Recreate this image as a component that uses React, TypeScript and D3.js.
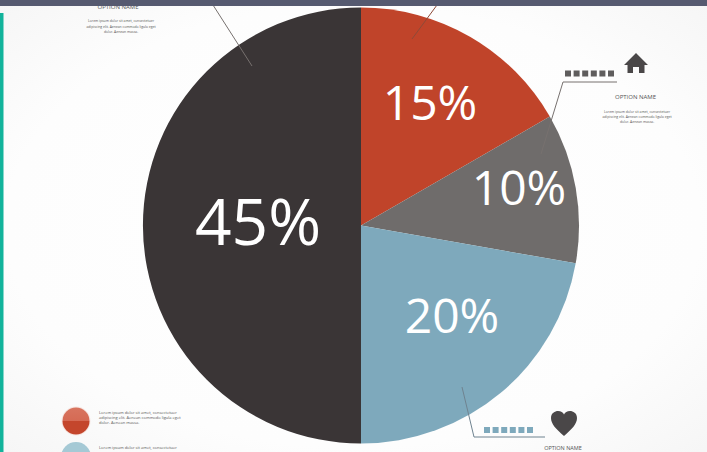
import React from "react";
import * as d3 from "d3";

// Slice shares and their colours, clockwise from twelve o'clock
const shareLabels = ["15%", "10%", "20%", "45%"];
const shareValues = [15, 10, 20, 45];
const sliceColors = ["#c0442a", "#6f6c6b", "#7ea9bc", "#3a3536"];

// Where each percentage sits and how large it is set
const labelX = [430, 519, 452, 258];
const labelY = [101, 186, 314, 220];
const labelSizes = [48, 48, 48, 64];

// Text blocks beside the pie
const optionName = "OPTION NAME";
const blurbLines = [
  "Lorem ipsum dolor sit amet, consectetuer",
  "adipiscing elit. Aenean commodo ligula eget",
  "dolor. Aenean massa.",
];
const lastLegendLines = ["Lorem ipsum dolor sit amet, consectetuer"];

const WIDTH = 707;
const HEIGHT = 452;
const CX = 361;
const CY = 225.5;
const RADIUS = 218;

const pieLayout = d3.pie<number>().sort(null).value((d) => d);
const sliceArc = d3.arc<d3.PieArcDatum<number>>().innerRadius(0).outerRadius(RADIUS);
const leader = d3.line();
const dashIndex = d3.range(6);

const FONT = "'Open Sans', sans-serif";

function Dashes({ x, y, color }: { x: number; y: number; color: string }) {
  return (
    <g>
      {dashIndex.map((i) => (
        <rect key={i} x={x + i * 8.6} y={y} width={6} height={6} fill={color} />
      ))}
    </g>
  );
}

function Blurb({ x, y, gap, size, anchor, lines }: { x: number; y: number; gap: number; size: number; anchor: string; lines: string[] }) {
  return (
    <g fontFamily={FONT} fontSize={size} fill="#555" textAnchor={anchor}>
      {lines.map((line, i) => (
        <text key={i} x={x} y={y + i * gap}>
          {line}
        </text>
      ))}
    </g>
  );
}

export default function App() {
  const slices = pieLayout(shareValues);
  return (
    <svg
      width={WIDTH}
      height={HEIGHT}
      viewBox={`0 0 ${WIDTH} ${HEIGHT}`}
      style={{ position: "absolute", left: 0, top: 0, display: "block" }}
    >
      <defs>
        <radialGradient id="paper" cx="50%" cy="50%" r="70%">
          <stop offset="0%" stopColor="#ffffff" />
          <stop offset="70%" stopColor="#fdfdfd" />
          <stop offset="100%" stopColor="#f6f6f6" />
        </radialGradient>
        <linearGradient id="legendRed" x1="0" y1="0" x2="0" y2="1">
          <stop offset="0%" stopColor="#d8745f" />
          <stop offset="50%" stopColor="#d56a54" />
          <stop offset="50%" stopColor="#c4462c" />
          <stop offset="100%" stopColor="#c4462c" />
        </linearGradient>
      </defs>

      <rect width={WIDTH} height={HEIGHT} fill="url(#paper)" />

      {/* Top-left callout, tucked under the band above it */}
      <text x={118} y={9} fontFamily={FONT} fontSize={6} fill="#555" textAnchor="middle">
        {optionName}
      </text>
      <Blurb x={121} y={22} gap={5.5} size={3.4} anchor="middle" lines={blurbLines} />

      {slices.map((s, i) => (
        <path key={i} d={sliceArc(s) ?? ""} transform={`translate(${CX},${CY})`} fill={sliceColors[i]} />
      ))}

      {/* Leader lines from the slices out to their callouts */}
      <g fill="none" strokeWidth={1}>
        <path d={leader([[213, 5], [252, 66]]) ?? ""} stroke="#77716f" />
        <path d={leader([[437, 5], [412, 39]]) ?? ""} stroke="#8d4a38" />
        <path d={leader([[541, 154], [563, 82], [617, 82]]) ?? ""} stroke="#77716f" />
        <path d={leader([[462, 387], [474, 437], [545, 437]]) ?? ""} stroke="#6f8390" />
      </g>

      <g fontFamily={FONT} fill="#fff" textAnchor="middle" dominantBaseline="central">
        {shareLabels.map((label, i) => (
          <text key={label} x={labelX[i]} y={labelY[i]} fontSize={labelSizes[i]}>
            {label}
          </text>
        ))}
      </g>

      {/* Right callout with house icon */}
      <Dashes x={565} y={70.5} color="#5f5d5d" />
      <path d="M636 53 L648 65 L644.5 65 L644.5 73 L639 73 L639 67 L633 67 L633 73 L627.5 73 L627.5 65 L624 65 Z" fill="#4a4748" />
      <text x={635.5} y={99} fontFamily={FONT} fontSize={6} fill="#555" textAnchor="middle">
        {optionName}
      </text>
      <Blurb x={637} y={113} gap={5} size={3.4} anchor="middle" lines={blurbLines} />

      {/* Bottom callout with heart icon */}
      <Dashes x={484} y={427} color="#7ea9bc" />
      <path d="M564 436 C556 429 551 424 551 418 C551 413 555 411 558 411 C561 411 563 412.5 564 414.5 C565 412.5 567 411 570 411 C573 411 577 413 577 418 C577 424 572 429 564 436 Z" fill="#4a4748" />
      <text x={563} y={449.5} fontFamily={FONT} fontSize={5.5} fill="#555" textAnchor="middle">
        {optionName}
      </text>

      {/* Legend at the lower left */}
      <circle cx={76} cy={421} r={14.5} fill="#f6e7e3" />
      <circle cx={76} cy={421} r={13.5} fill="url(#legendRed)" />
      <Blurb x={99} y={414} gap={5} size={4} anchor="start" lines={blurbLines} />
      <circle cx={76} cy={457} r={15} fill="#a5c9d5" />
      <Blurb x={99} y={449} gap={5} size={4} anchor="start" lines={lastLegendLines} />

      {/* Page edges */}
      <rect x={0} y={0} width={WIDTH} height={6} fill="#565a70" />
      <rect x={0} y={13} width={3.5} height={HEIGHT - 13} fill="#12b39b" />
    </svg>
  );
}
